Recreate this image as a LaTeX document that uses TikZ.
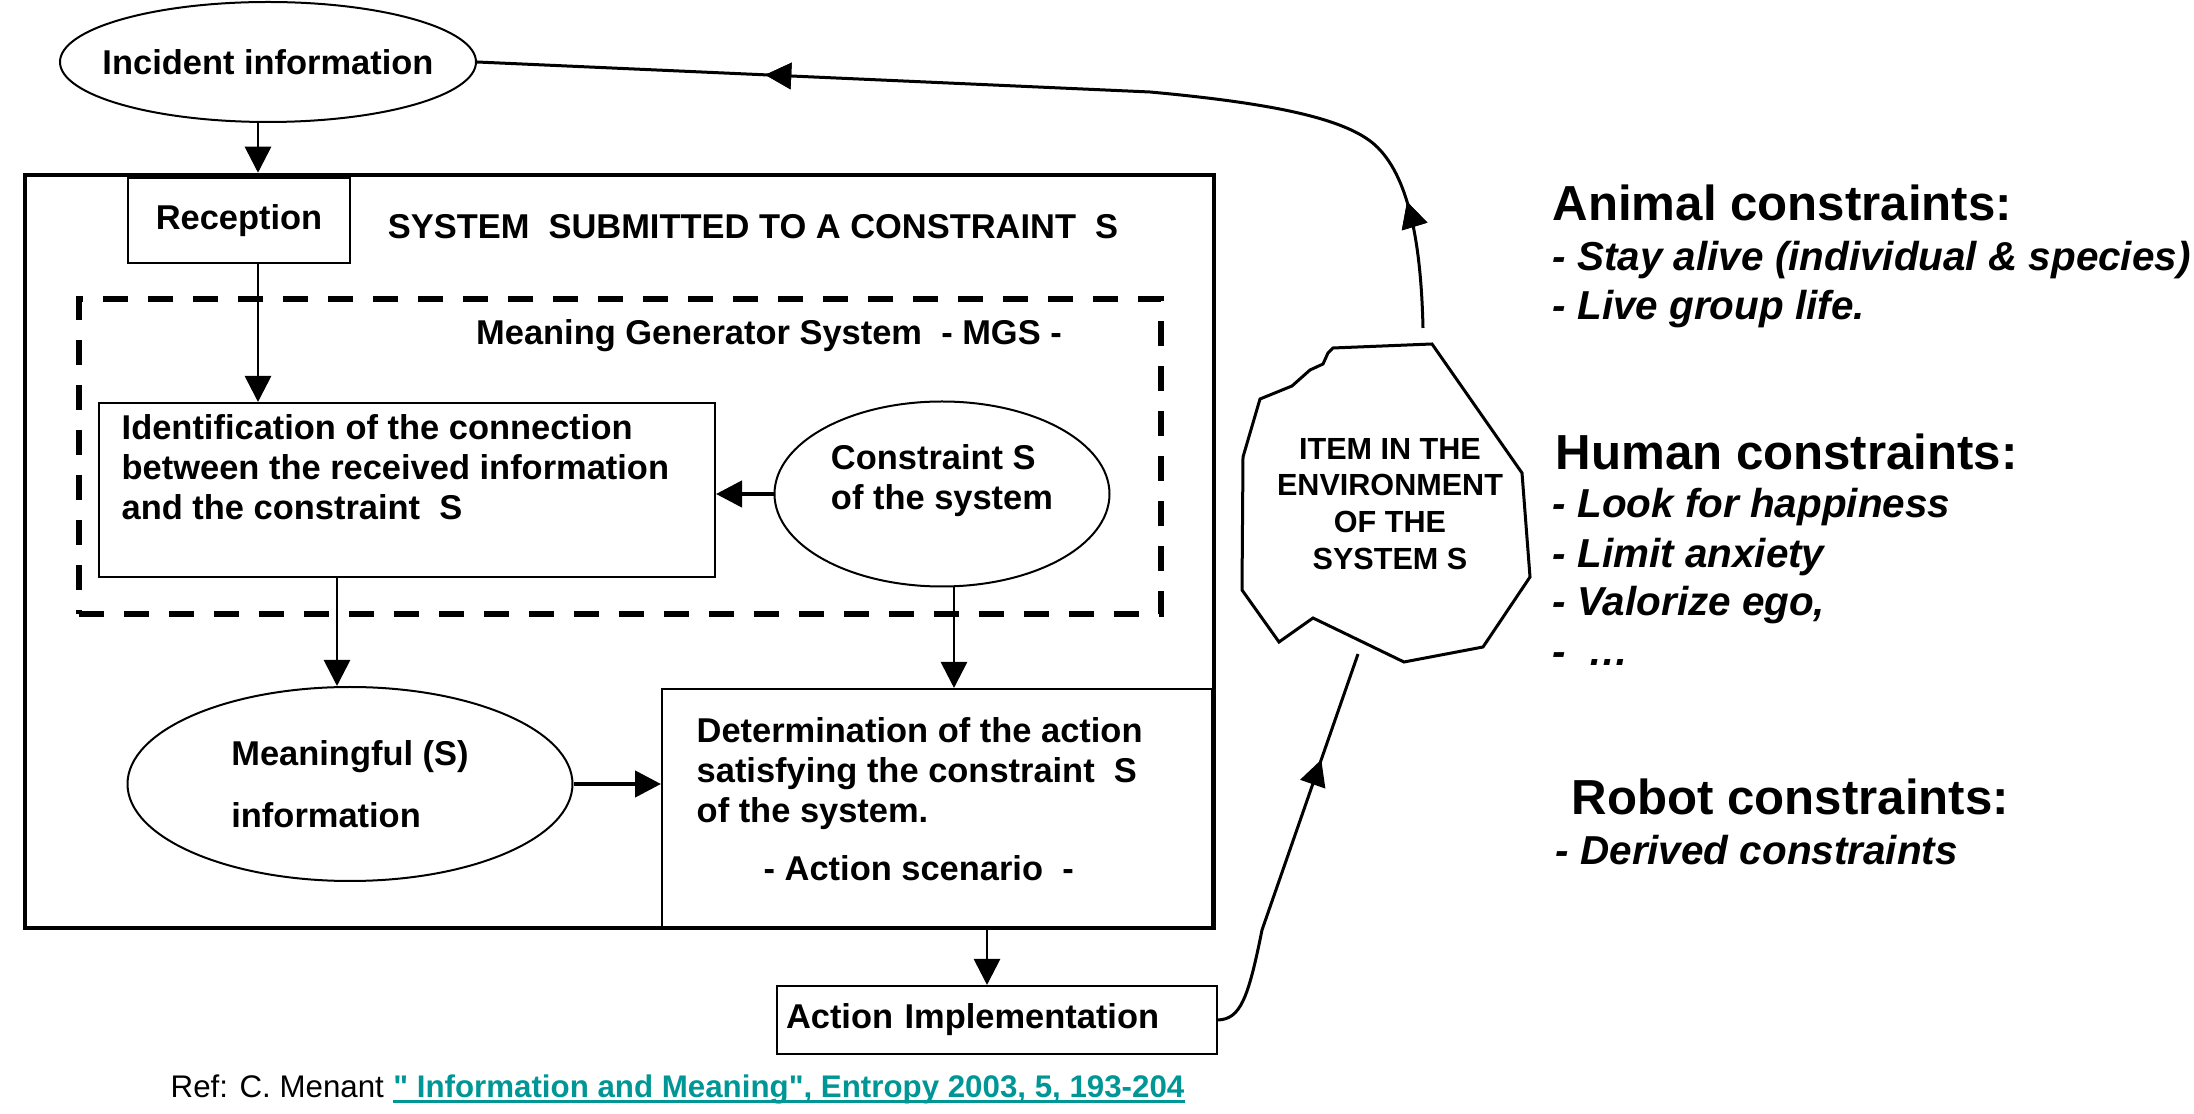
\documentclass[tikz,border=0pt]{standalone}
\usepackage{fontspec}
\setmainfont{Liberation Sans}
\usetikzlibrary{shapes.geometric,arrows.meta,decorations.markings}
\definecolor{linkteal}{RGB}{0,150,150}
\begin{document}
\begin{tikzpicture}[x=0.1mm,y=-0.1mm,
    every node/.style={font=\fontsize{9.8}{11.4}\selectfont\bfseries},
    box/.style={draw,line width=0.2mm,inner sep=0pt},
    oval/.style={draw,ellipse,line width=0.2mm,inner sep=0pt},
    arr/.style={line width=0.28mm,-{Triangle[length=2.6mm,width=2.6mm]}},
    tip/.style={decoration={markings,mark=at position #1 with {\arrow{Triangle[length=2.6mm,width=2.6mm]}}},postaction={decorate}},
    head/.style={anchor=base west,inner sep=0pt,font=\fontsize{14}{16}\selectfont\bfseries},
    side/.style={anchor=base west,inner sep=0pt,font=\fontsize{11.5}{13}\selectfont\bfseries\itshape},
    reftext/.style={anchor=base west,inner sep=0pt,font=\fontsize{8.9}{11}\selectfont}]
      \useasboundingbox (0,0) rectangle (2194,1114);
      \node[draw,line width=0.45mm,inner sep=0pt,minimum width=118.9mm,minimum height=75.3mm] (sys) at (619.5,551.5) {};
      \node[draw,line width=0.6mm,dash pattern=on 2.5mm off 2mm,inner sep=0pt,minimum width=108.2mm,minimum height=31.5mm] (mgs) at (620,456.5) {};
      \node[oval,minimum width=41.6mm,minimum height=12mm] (incident) at (268,62) {\makebox[0pt]{Incident information}};
      \node[box,minimum width=22.2mm,minimum height=8.5mm] (recep) at (239,221) {Reception};
      \node (systitle) at (753,227) {SYSTEM\ \ SUBMITTED TO A CONSTRAINT\ \ S};
      \node (mgstitle) at (769,336) {Meaning Generator System\ \ - MGS -};
      \node[box,minimum width=61.6mm,minimum height=17.4mm] (ident) at (407,490) {};
      \node[anchor=north west,align=left,inner sep=0pt] (identtext) at (121,414) {Identification of the connection\\between the received information\\and the constraint\ \ S};
      \node[oval,minimum width=33.5mm,minimum height=18.5mm,align=left] (cons) at (942,494) {Constraint S\\of the system\\[-0.6mm]};
      \node[oval,minimum width=44.5mm,minimum height=19.4mm,align=left] (meaning) at (350,784) {Meaningful (S)\\[2.2mm]information};
      \node[box,minimum width=55mm,minimum height=23.9mm] (determ) at (937,808.5) {};
      \node[anchor=north west,align=left,inner sep=0pt] (determtext) at (696,717) {Determination of the action\\satisfying the constraint\ \ S\\of the system.\\[1.8mm]\hspace*{6.7mm}- Action scenario\ \ -};
      \node[box,minimum width=44mm,minimum height=6.8mm,text width=42.2mm,align=left] (act) at (997,1020) {Action Implementation};
      \draw[line width=0.3mm] (1333,348) -- (1432,344) -- (1522,473) -- (1530,577) -- (1483,647) -- (1404,662) -- (1313,618) -- (1279,642) -- (1242,590) -- (1243,457) -- (1260,399) -- (1292,386) -- (1310,370) -- (1323,364) -- (1328,353) -- cycle;
      \node[align=center,font=\fontsize{8.7}{10.5}\selectfont\bfseries] (item) at (1390,504) {ITEM IN THE\\ENVIRONMENT\\OF THE\hspace*{3.2mm}\\SYSTEM S};
      \coordinate (itemtop) at (1423,328);
      \coordinate (itembot) at (1358,654);
      \draw[arr] ([xshift=-1mm]incident.south) -- ([xshift=-1mm]incident.south |- sys.north);
      \draw[arr] ([xshift=1.9mm]recep.south) -- ([xshift=1.9mm]recep.south |- ident.north);
      \draw[arr,line width=0.45mm] (cons.west) -- (cons.west -| ident.east);
      \draw[arr] ([xshift=-1.3mm]meaning.north |- ident.south) -- ([xshift=-1.3mm]meaning.north);
      \draw[arr] ([xshift=1.2mm]cons.south) -- ([xshift=1.2mm]cons.south |- determ.north);
      \draw[arr,line width=0.45mm] (meaning.east) -- (meaning.east -| determ.west);
      \draw[arr] ([xshift=-1mm]act.north |- sys.south) -- ([xshift=-1mm]act.north);
      \draw[line width=0.3mm,tip=0.72] (act.east) .. controls (1240,1019) and (1248,1000) .. (1262,930) -- (itembot);
      \draw[line width=0.3mm,tip=0.116,tip=0.738] (itemtop) .. controls (1421,240) and (1408,175) .. (1375,145) .. controls (1345,118) and (1270,103) .. (1150,92) -- (incident.east);
      \node[head] (animal) at (1552,221) {Animal constraints:};
      \node[side] (animal1) at (1552,271) {- Stay alive (individual \& species)};
      \node[side] (animal2) at (1552,320) {- Live group life.};
      \node[head] (human) at (1555,470) {Human constraints:};
      \node[side] (human1) at (1552,518) {- Look for happiness};
      \node[side] (human2) at (1552,568) {- Limit anxiety};
      \node[side] (human3) at (1552,616) {- Valorize ego,};
      \node[side] (human4) at (1552,666) {-\ \ \dots};
      \node[head] (robot) at (1571,815) {Robot constraints:};
      \node[side] (robot1) at (1555,865) {- Derived constraints};
      \node[reftext] (ref) at (170,1097) {Ref: C. Menant};
      \node[reftext,font=\fontsize{8.9}{11}\selectfont\bfseries,text=linkteal] (link) at ([xshift=0.8mm]ref.base east) {\textquotedbl{} Information and Meaning\textquotedbl, Entropy 2003, 5, 193-204};
      \draw[linkteal,line width=0.3mm] ([yshift=-0.5mm]link.base west) -- ([yshift=-0.5mm]link.base east);
\end{tikzpicture}
\end{document}
